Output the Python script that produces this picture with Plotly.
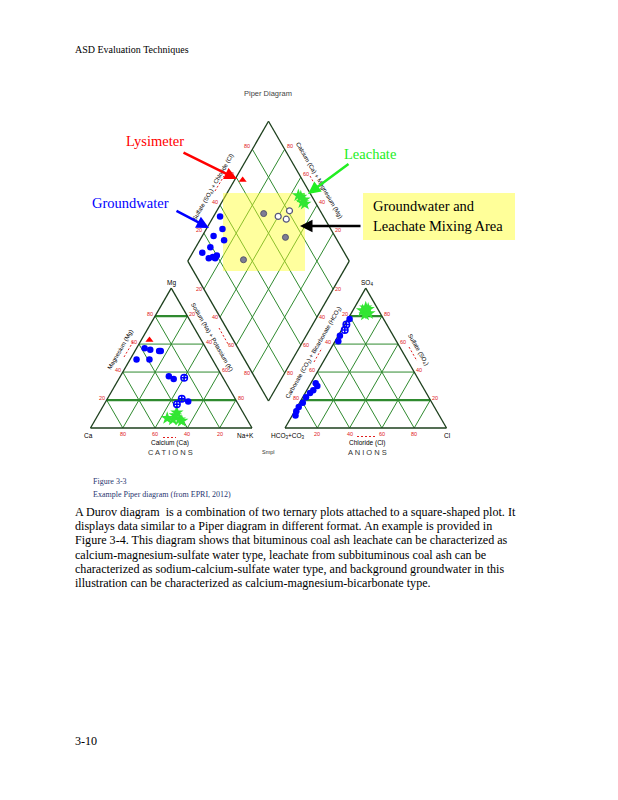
import plotly.graph_objects as go

# ---------------- data (percent of meq/L) ----------------
# Cation triangle: Ca %, Mg % (Na+K = remainder)
gw_cat_ca = [38, 35, 30, 29, 47, 39, 33, 31, 30]
gw_cat_mg = [57, 56, 55, 55, 49, 49, 37, 35, 19]
mix_cat_ca = [24, 33, 38]
mix_cat_mg = [36, 21, 17]
lys_cat_ca = [32]
lys_cat_mg = [63]
lea_cat_ca = [49, 43, 42, 46, 41, 41]
lea_cat_mg = [7, 9, 6, 6, 5, 11]

# Anion triangle: SO4 %, Cl % (HCO3+CO3 = remainder)
gw_an_so4 = [78, 66, 62, 32, 30, 27, 25, 22, 18, 15, 12, 9]
gw_an_cl = [1, 1, 2, 3, 5, 4, 3, 2, 2, 1, 1, 2]
mix_an_so4 = [74, 70]
mix_an_cl = [1, 2]
lea_an_so4 = [84, 85, 81, 82, 86]
lea_an_cl = [6, 9, 9, 11, 7]

# Diamond: SO4+Cl %, Ca+Mg %
gw_dia_scl = [36, 33, 25, 30, 19, 12, 17, 18, 14, 20]
gw_dia_camg = [96, 90, 93, 85, 91, 94, 86, 84, 88, 84]
mix_dia_scl = [64, 69, 35]
mix_dia_camg = [70, 48, 66]
mixo_dia_scl = [72, 81, 76]
mixo_dia_camg = [60, 55, 54]
lys_dia_scl = [63]
lys_dia_camg = [95]
lea_dia_scl = [93, 94, 93, 92, 92]
lea_dia_camg = [53, 50, 48, 55, 50]

tick_vals = [20, 40, 60, 80]

paragraph = [
    "A Durov diagram  is a combination of two ternary plots attached to a square-shaped plot. It",
    "displays data similar to a Piper diagram in different format. An example is provided in",
    "Figure 3-4. This diagram shows that bituminous coal ash leachate can be characterized as",
    "calcium-magnesium-sulfate water type, leachate from subbituminous coal ash can be",
    "characterized as sodium-calcium-sulfate water type, and background groundwater in this",
    "illustration can be characterized as calcium-magnesium-bicarbonate type.",
]

# ---------------- geometry (page pixels) ----------------
S = 161.5
H = S * 0.8660
BASE = 428.0
CBL = 90.5
ABL = 285.0
DBX = 268.5
DBY = 401.0


def cat_xy(ca, mg):
    m = mg / 100.0
    n = 1 - ca / 100.0 - m
    return CBL + S * (n + m / 2), BASE - H * m


def an_xy(so4, cl):
    s = so4 / 100.0
    c = cl / 100.0
    return ABL + S * (c + s / 2), BASE - H * s


def dia_xy(scl, camg):
    a = scl / 100.0
    b = camg / 100.0
    return DBX + (a - b) * S / 2, DBY - (a + b) * H


def pts(fn, u, v):
    xs, ys = [], []
    for p, q in zip(u, v):
        x, y = fn(p, q)
        xs.append(x)
        ys.append(y)
    return xs, ys


fig = go.Figure()

GRID = "#2f8a2f"
EDGE = "#1c3f1c"


def add_lines(segs, color, width):
    xs, ys = [], []
    for (x0, y0), (x1, y1) in segs:
        xs += [x0, x1, None]
        ys += [y0, y1, None]
    fig.add_trace(go.Scatter(x=xs, y=ys, mode="lines",
                             line=dict(color=color, width=width),
                             hoverinfo="skip", showlegend=False))


def tri_grid(fn_bary):
    thin, thick = [], []
    for k in tick_vals:
        t = k / 100.0
        seg_h = (fn_bary(1 - t, 0, t), fn_bary(0, 1 - t, t))
        (thick if k in (20, 80) else thin).append(seg_h)
        thin.append((fn_bary(1 - t, t, 0), fn_bary(0, t, 1 - t)))
        thin.append((fn_bary(t, 1 - t, 0), fn_bary(t, 0, 1 - t)))
    edges = [(fn_bary(1, 0, 0), fn_bary(0, 1, 0)),
             (fn_bary(0, 1, 0), fn_bary(0, 0, 1)),
             (fn_bary(0, 0, 1), fn_bary(1, 0, 0))]
    add_lines(thin, GRID, 1)
    add_lines(thick, GRID, 2.2)
    add_lines(edges, EDGE, 1.3)


def cat_bary(c, n, m):
    return CBL + S * (n + m / 2), BASE - H * m


def an_bary(c, n, m):
    return ABL + S * (n + m / 2), BASE - H * m


tri_grid(cat_bary)
tri_grid(an_bary)

# diamond grid
dgrid = []
for k in tick_vals:
    dgrid.append((dia_xy(k, 0), dia_xy(k, 100)))
    dgrid.append((dia_xy(0, k), dia_xy(100, k)))
add_lines(dgrid, GRID, 1)
add_lines([(dia_xy(0, 0), dia_xy(100, 0)), (dia_xy(100, 0), dia_xy(100, 100)),
           (dia_xy(100, 100), dia_xy(0, 100)), (dia_xy(0, 100), dia_xy(0, 0))], EDGE, 1.3)

# yellow mixing-area highlight
fig.add_trace(go.Scatter(x=[223, 305, 305, 223, 223], y=[193, 193, 271, 271, 193],
                         mode="lines", fill="toself", fillcolor="rgba(255,255,40,0.45)",
                         line=dict(width=0), hoverinfo="skip", showlegend=False))

# red dashed axis arrows near titles
red_dash = [((124, 357), (133, 342)), ((215, 191), (224, 176)), ((310, 176), (318, 190)),
            ((219, 328), (228, 344)), ((314, 362), (322, 348)), ((409, 347), (417, 361)),
            ((163, 437.5), (176, 437.5)), ((357, 436.5), (377, 436.5))]
xs, ys = [], []
for (a, b) in red_dash:
    xs += [a[0], b[0], None]
    ys += [a[1], b[1], None]
fig.add_trace(go.Scatter(x=xs, y=ys, mode="lines", line=dict(color="#e02020", width=1, dash="2px,2px"),
                         hoverinfo="skip", showlegend=False))

BLUE = "#0000ff"
GREEN = "#33e633"


def marker_trace(x, y, symbol, color, size, line_color=None, line_w=0):
    fig.add_trace(go.Scatter(x=x, y=y, mode="markers",
                             marker=dict(symbol=symbol, color=color, size=size,
                                         line=dict(color=line_color or color, width=line_w)),
                             hoverinfo="skip", showlegend=False))


# cation triangle points
x, y = pts(cat_xy, lea_cat_ca, lea_cat_mg); marker_trace(x, y, "star", GREEN, 10)
x, y = pts(cat_xy, gw_cat_ca, gw_cat_mg); marker_trace(x, y, "circle", BLUE, 6.5)
x, y = pts(cat_xy, mix_cat_ca, mix_cat_mg); marker_trace(x, y, "circle-cross-open", BLUE, 6.5, BLUE, 1.5)
x, y = pts(cat_xy, lys_cat_ca, lys_cat_mg); marker_trace(x, y, "triangle-up", "#ff0000", 7)

# anion triangle points
x, y = pts(an_xy, lea_an_so4, lea_an_cl); marker_trace(x, y, "star", GREEN, 10)
x, y = pts(an_xy, gw_an_so4, gw_an_cl); marker_trace(x, y, "circle", BLUE, 6.5)
x, y = pts(an_xy, mix_an_so4, mix_an_cl); marker_trace(x, y, "circle-cross-open", BLUE, 6.5, BLUE, 1.5)

# diamond points
x, y = pts(dia_xy, lea_dia_scl, lea_dia_camg); marker_trace(x, y, "star", GREEN, 10)
x, y = pts(dia_xy, gw_dia_scl, gw_dia_camg); marker_trace(x, y, "circle", BLUE, 6.5)
x, y = pts(dia_xy, mix_dia_scl, mix_dia_camg); marker_trace(x, y, "circle", "#7d7d95", 6, "#55556a", 1)
x, y = pts(dia_xy, mixo_dia_scl, mixo_dia_camg); marker_trace(x, y, "circle", "white", 6, "#55557a", 1.2)
x, y = pts(dia_xy, lys_dia_scl, lys_dia_camg); marker_trace(x, y, "triangle-up", "#ff0000", 7)

ann = []
SANS = "Liberation Sans, Arial, sans-serif"
SERIF = "Liberation Serif, Times New Roman, serif"


def txt(x, y, t, size, color="black", family=SANS, angle=0, xa="center", ya="middle"):
    ann.append(dict(x=x, y=y, xref="x", yref="y", text=t, showarrow=False, textangle=angle,
                    font=dict(size=size, color=color, family=family), xanchor=xa, yanchor=ya))


# red tick labels
RED = "#e02020"
for k in tick_vals:
    t = k / 100.0
    px, py = cat_bary(t, 1 - t, 0); txt(px, py + 5.5, str(k), 5.5, RED)
    px, py = cat_bary(1 - t, 0, t); txt(px - 5, py - 2, str(k), 5.5, RED)
    px, py = cat_bary(0, 1 - t, t); txt(px + 5, py - 2, str(100 - k), 5.5, RED)
    px, py = an_bary(1 - t, t, 0); txt(px, py + 5.5, str(k), 5.5, RED)
    px, py = an_bary(1 - t, 0, t); txt(px - 5, py - 2, str(100 - k), 5.5, RED)
    px, py = an_bary(0, 1 - t, t); txt(px + 5, py - 2, str(k), 5.5, RED)
    px, py = dia_xy(k, 100); txt(px - 5, py - 3, str(k), 5.5, RED)
    px, py = dia_xy(100, k); txt(px + 5, py - 3, str(k), 5.5, RED)
    px, py = dia_xy(0, k); txt(px - 5, py, str(100 - k), 5.5, RED)
    px, py = dia_xy(k, 0); txt(px + 5, py, str(100 - k), 5.5, RED)

# corner labels
txt(171, 283, "Mg", 6.5)
txt(88, 435, "Ca", 6.5)
txt(245, 435, "Na+K", 6.5)
txt(367, 283, "SO<sub>4</sub>", 6.5)
txt(288, 436, "HCO<sub>3</sub>+CO<sub>3</sub>", 6.5)
txt(447, 435, "Cl", 6.5)

# axis titles
txt(170, 443, "Calcium (Ca)", 6.5)
txt(367, 443, "Chloride (Cl)", 6.5)
txt(170, 452.5, "C A T I O N S", 7.5, "#333333")
txt(367, 452.5, "A N I O N S", 7.5, "#333333")
txt(268, 452, "Smpl", 5.5, "#333333")
txt(120, 350, "Magnesium (Mg)", 6, angle=-60)
txt(213, 187, "Sulfate (SO<sub>4</sub>) + Chloride (Cl)", 6, angle=-60)
txt(319, 180, "Calcium (Ca) + Magnesium (Mg)", 6, angle=60)
txt(212, 337, "Sodium (Na) + Potassium (K)", 6, angle=60)
txt(313, 353, "Carbonate (CO<sub>3</sub>) + Bicarbonate (HCO<sub>3</sub>)", 6, angle=-60)
txt(418, 349, "Sulfate (SO<sub>4</sub>)", 6, angle=60)
txt(268, 93, "Piper Diagram", 7.5, "#444444")

# callouts
txt(155, 141, "Lysimeter", 14.5, "#ff0000", SERIF)
txt(130, 203, "Groundwater", 14.5, "#0000ff", SERIF)
txt(370, 154, "Leachate", 14.5, "#22ee22", SERIF)
txt(371, 206, "Groundwater and", 14.5, "black", SERIF, xa="left")
txt(371, 226, "Leachate Mixing Area", 14.5, "black", SERIF, xa="left")


def arrow(x0, y0, x1, y1, color):
    ann.append(dict(x=x1, y=y1, ax=x0, ay=y0, xref="x", yref="y", axref="x", ayref="y",
                    text="", showarrow=True, arrowhead=2, arrowsize=1, arrowwidth=2.5,
                    arrowcolor=color))


arrow(182, 152, 237, 179, "#ff0000")
arrow(175, 210, 209, 228, "#0000ff")
arrow(350, 163, 308, 194, "#22ee22")
arrow(362, 226, 300, 226, "black")

# page text
txt(73, 49, "ASD Evaluation Techniques", 10, "black", SERIF, xa="left")
txt(91, 481, "Figure 3-3", 8, "#1f3570", SERIF, xa="left")
txt(91, 494, "Example Piper diagram (from EPRI, 2012)", 8, "#1f3570", SERIF, xa="left")
for i, line in enumerate(paragraph):
    txt(73, 512 + i * 14.2, line, 12.1, "black", SERIF, xa="left")
txt(73, 741, "3-10", 12.1, "black", SERIF, xa="left")

shapes = [dict(type="rect", xref="x", yref="y", x0=363, x1=515, y0=193, y1=240,
               fillcolor="#ffff99", line=dict(width=0), layer="below")]

fig.update_layout(
    width=618, height=800,
    margin=dict(l=0, r=0, t=0, b=0),
    paper_bgcolor="white", plot_bgcolor="white",
    xaxis=dict(range=[0, 618], visible=False, fixedrange=True),
    yaxis=dict(range=[800, 0], visible=False, fixedrange=True),
    annotations=ann, shapes=shapes, showlegend=False,
)

fig.write_html("out.html", config={"displayModeBar": False},
               post_script="document.body.style.margin='0';document.body.style.overflow='hidden';")
